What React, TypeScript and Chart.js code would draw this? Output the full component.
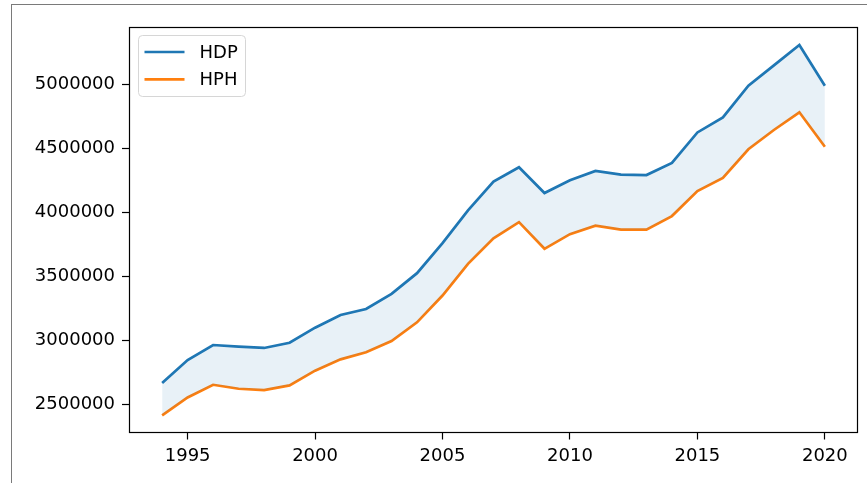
import React, { useEffect, useRef } from "react";
import { Chart, registerables } from "chart.js";

Chart.register(...registerables);

const years = [1994, 1995, 1996, 1997, 1998, 1999, 2000, 2001, 2002, 2003, 2004, 2005, 2006, 2007, 2008, 2009, 2010, 2011, 2012, 2013, 2014, 2015, 2016, 2017, 2018, 2019, 2020];
const hdp = [2670000, 2849000, 2966000, 2953000, 2943000, 2984000, 3101000, 3200000, 3247000, 3365000, 3526000, 3760000, 4016000, 4240000, 4352000, 4151000, 4250000, 4323000, 4294000, 4291000, 4385000, 4623000, 4740000, 4987000, 5146000, 5305000, 4987000];
const hph = [2417000, 2557000, 2656000, 2625000, 2615000, 2651000, 2766000, 2854000, 2909000, 2997000, 3143000, 3352000, 3599000, 3797000, 3924000, 3716000, 3830000, 3896000, 3865000, 3865000, 3971000, 4166000, 4268000, 4492000, 4642000, 4780000, 4512000];
const xTicks = [1995, 2000, 2005, 2010, 2015, 2020];
const yTicks = [2500000, 3000000, 3500000, 4000000, 4500000, 5000000];
const seriesLabels = ["HDP", "HPH"];
const seriesColors = ["#1f77b4", "#ff7f0e"];

const FONT = "'DejaVu Sans', sans-serif";

const framePlugin = {
  id: "frame",
  afterDatasetsDraw(chart: any) {
    const { ctx, chartArea } = chart;
    const l = Math.round(chartArea.left) + 0.5;
    const t = Math.round(chartArea.top) + 0.5;
    const r = Math.round(chartArea.right) - 0.5;
    const b = Math.round(chartArea.bottom) - 0.5;
    ctx.save();
    ctx.strokeStyle = "#000";
    ctx.lineWidth = 1.2;
    ctx.strokeRect(l, t, r - l, b - t);

    // matplotlib-style legend inside upper left
    const bx = chartArea.left + 9.5;
    const by = chartArea.top + 8.5;
    const bw = 107;
    const bh = 61;
    const rad = 4;
    ctx.beginPath();
    ctx.moveTo(bx + rad, by);
    ctx.lineTo(bx + bw - rad, by);
    ctx.arcTo(bx + bw, by, bx + bw, by + rad, rad);
    ctx.lineTo(bx + bw, by + bh - rad);
    ctx.arcTo(bx + bw, by + bh, bx + bw - rad, by + bh, rad);
    ctx.lineTo(bx + rad, by + bh);
    ctx.arcTo(bx, by + bh, bx, by + bh - rad, rad);
    ctx.lineTo(bx, by + rad);
    ctx.arcTo(bx, by, bx + rad, by, rad);
    ctx.closePath();
    ctx.fillStyle = "rgba(255,255,255,0.8)";
    ctx.fill();
    ctx.strokeStyle = "#d6d6d6";
    ctx.lineWidth = 1;
    ctx.stroke();

    chart.data.datasets.forEach((ds: any, i: number) => {
      const y = by + 16.5 + i * 27.3;
      ctx.beginPath();
      ctx.moveTo(bx + 6, y);
      ctx.lineTo(bx + 46, y);
      ctx.strokeStyle = ds.borderColor;
      ctx.lineWidth = 2.7;
      ctx.stroke();
      ctx.fillStyle = "#000";
      ctx.font = `18px ${FONT}`;
      ctx.textBaseline = "middle";
      ctx.textAlign = "left";
      ctx.fillText(ds.label, bx + 61, y + 1);
    });
    ctx.restore();
  },
};

export default function App() {
  const canvasRef = useRef<HTMLCanvasElement | null>(null);

  useEffect(() => {
    const canvas = canvasRef.current;
    if (!canvas) return;
    const chart = new Chart(canvas, {
      type: "line",
      data: {
        datasets: [
          {
            label: seriesLabels[0],
            data: years.map((x, i) => ({ x, y: hdp[i] })),
            borderColor: seriesColors[0],
            backgroundColor: "rgba(31,119,180,0.1)",
            borderWidth: 2.7,
            pointRadius: 0,
            tension: 0,
            fill: "+1",
          },
          {
            label: seriesLabels[1],
            data: years.map((x, i) => ({ x, y: hph[i] })),
            borderColor: seriesColors[1],
            backgroundColor: "rgba(0,0,0,0)",
            borderWidth: 2.7,
            pointRadius: 0,
            tension: 0,
            fill: false,
          },
        ],
      },
      options: {
        animation: false,
        responsive: false,
        layout: { padding: { left: 0, top: 27, right: 9, bottom: 0 } },
        plugins: {
          legend: { display: false },
          tooltip: { enabled: false },
        },
        scales: {
          x: {
            type: "linear",
            min: 1992.7,
            max: 2021.3,
            afterBuildTicks: (scale: any) => {
              scale.ticks = xTicks.map((v) => ({ value: v }));
            },
            afterFit: (scale: any) => {
              scale.height = 50.5;
            },
            border: { display: false },
            grid: {
              drawOnChartArea: false,
              drawTicks: true,
              tickLength: 7,
              tickColor: "#000",
              tickWidth: 1.2,
            },
            ticks: {
              color: "#000",
              font: { family: FONT, size: 18 },
              padding: 6,
              maxRotation: 0,
              autoSkip: false,
              callback: (v: any) => String(v),
            },
          },
          y: {
            type: "linear",
            min: 2284000,
            max: 5445000,
            afterBuildTicks: (scale: any) => {
              scale.ticks = yTicks.map((v) => ({ value: v }));
            },
            afterFit: (scale: any) => {
              scale.width = 129;
            },
            border: { display: false },
            grid: {
              drawOnChartArea: false,
              drawTicks: true,
              tickLength: 7,
              tickColor: "#000",
              tickWidth: 1.2,
            },
            ticks: {
              color: "#000",
              font: { family: FONT, size: 18 },
              padding: 7,
              autoSkip: false,
              callback: (v: any) => String(v),
            },
          },
        },
      },
      plugins: [framePlugin],
    } as any);
    return () => chart.destroy();
  }, []);

  return (
    <div style={{ position: "fixed", left: 0, top: 0, width: 867, height: 483, background: "#fff", overflow: "hidden" }}>
      <div
        style={{
          position: "absolute",
          left: 11,
          top: 4,
          width: 900,
          height: 600,
          borderTop: "1px solid #7a7a7a",
          borderLeft: "1px solid #7a7a7a",
        }}
      />
      <canvas
        ref={canvasRef}
        width={867}
        height={483}
        style={{ position: "absolute", left: 0, top: 0, width: 867, height: 483 }}
      />
    </div>
  );
}
